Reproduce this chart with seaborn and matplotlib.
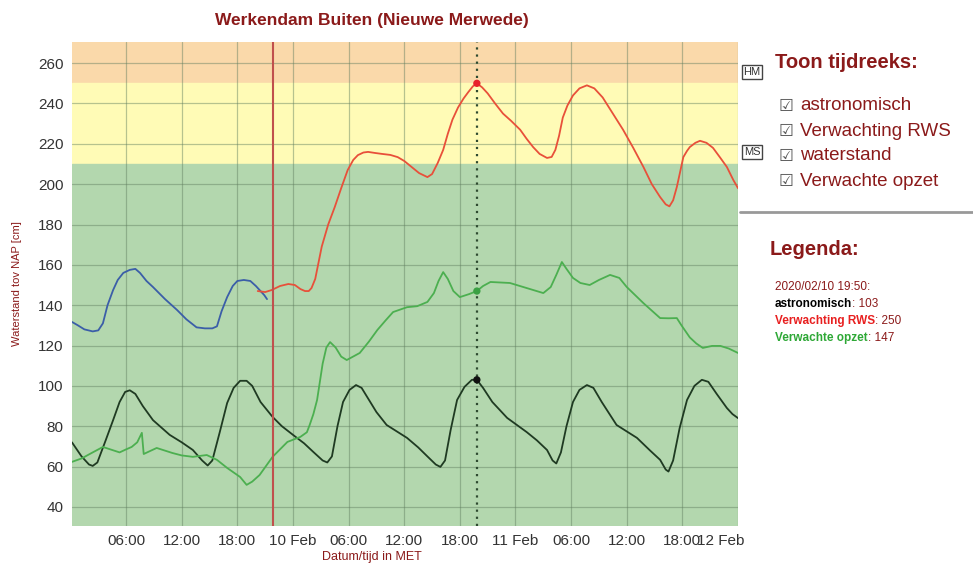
import numpy as np
import pandas as pd
import matplotlib.pyplot as plt
import matplotlib.dates as mdates
import matplotlib.transforms as mtransforms
import seaborn as sns

# uren sinds 9 feb 2020 00:00 + waarden [cm NAP]
waterstand_h = [0.16, 0.8, 1.5, 2.4, 3.0, 3.5, 4.0, 4.6, 5.1, 5.7, 6.4, 7.0, 7.5, 8.2, 8.9, 10.2,
                11.5, 12.5, 13.6, 14.5, 15.3, 15.8, 16.3, 16.9, 17.5, 18.0, 18.7, 19.4, 20.0, 20.4,
                20.9, 21.2]
waterstand_v = [131.7, 130, 128, 127, 127.5, 131, 140, 147.5, 152.5, 156, 157.5, 158, 156, 152, 149, 143,
                137.6, 133, 129, 128.5, 128.5, 129.5, 137, 144, 149.5, 152, 152.5, 152, 149.5, 147.5,
                145, 143]

rws_h = [20.2, 21.0, 21.7, 22.6, 23.5, 24.2, 24.8, 25.3, 25.7, 26.0, 26.4, 27.1, 27.8, 28.5, 29.2,
         29.9, 30.5, 31.0, 31.6, 32.1, 32.8, 33.6, 34.5, 35.3, 36.0, 36.8, 37.6, 38.5, 39.0, 39.6,
         40.2, 40.7, 41.2, 41.8, 42.4, 42.9, 43.4, 43.83, 44.4, 45.0, 45.8, 46.65, 47.5, 48.5, 49.2,
         49.9, 50.6, 51.4, 51.9, 52.3, 52.7, 53.1, 53.6, 54.2, 54.9, 55.7, 56.5, 57.4, 58.5, 59.6,
         60.7, 61.8, 62.7, 63.6, 64.2, 64.6, 65.0, 65.4, 65.8, 66.1, 66.5, 66.8, 67.4, 67.9, 68.6,
         69.3, 70.1, 70.8, 71.5, 72.0]
rws_v = [147, 146.5, 147.5, 149.5, 150.5, 150, 148, 147, 147, 148.5, 153, 169, 180, 188.6, 198,
         207, 212, 214.4, 215.7, 216, 215.5, 215, 214.5, 213.4, 211.5, 208.5, 205.5, 203.5, 205, 210.4,
         217, 225, 232, 238, 242.5, 245.6, 248.5, 250, 248, 245, 240, 235, 231.5, 227, 222.5,
         218.4, 215, 213, 213.5, 217, 224, 233, 239, 244, 247.5, 249, 247.5, 243, 235, 227,
         218, 208.5, 200, 193.6, 190, 189, 192, 198.6, 207, 213.4, 216.5, 218.4, 220.5, 221.5, 220.5,
         218, 213, 208.5, 202, 198]

astro_h = [0.16, 1.2, 2.0, 2.4, 2.9, 3.8, 4.6, 5.3, 5.9, 6.4, 7.0, 7.8, 8.9, 10.7, 12.0, 13.2, 14.2,
           14.8, 15.3, 16.1, 16.9, 17.6, 18.3, 19.0, 19.6, 20.5, 21.8, 22.8, 24.0, 25.2, 26.2, 27.2,
           27.7, 28.2, 28.8, 29.4, 30.1, 30.8, 31.4, 32.2, 33.0, 34.1, 36.3, 37.5, 38.5, 39.4, 39.9,
           40.4, 41.0, 41.7, 42.5, 43.3, 43.83, 44.5, 45.5, 47.1, 49.2, 50.3, 51.4, 52.0, 52.4, 52.9,
           53.5, 54.2, 54.9, 55.7, 56.4, 57.3, 58.9, 61.1, 62.5, 63.6, 64.2, 64.5, 65.0, 65.7, 66.5,
           67.3, 68.1, 68.8, 69.7, 70.8, 71.4, 72.0]
astro_v = [72, 65, 61, 60.3, 62, 73, 83, 92, 97, 97.8, 96, 90, 83, 75.7, 72, 68.2, 63,
           60.5, 63, 77, 91.5, 99, 102.5, 102.5, 100, 92, 84.6, 80, 75.7, 71.5, 67.2, 63,
           62, 65, 80, 92, 98, 100.4, 99, 93, 87, 80.6, 74.2, 69.5, 65, 61, 59.8,
           63, 78, 93, 99.5, 103, 103, 99, 92, 84.1, 77.1, 73, 68.2, 63, 61.5, 67,
           80, 92, 98, 100.4, 99, 92, 80.6, 74.2, 68, 63.3, 58.5, 57.5, 63, 79, 93,
           100, 103, 102, 96, 89, 86, 84]

opzet_h = [0.16, 1.2, 2.4, 3.5, 4.3, 5.3, 6.0, 6.6, 7.2, 7.7, 7.9, 8.5, 9.3, 11.0, 12.0, 13.2, 14.7,
           15.8, 16.9, 18.3, 19.0, 19.6, 20.4, 21.8, 23.4, 24.8, 25.5, 25.8, 26.2, 26.6, 27.2, 27.6,
           28.0, 28.6, 29.2, 29.8, 31.2, 32.2, 33.1, 34.0, 34.8, 36.3, 37.4, 38.5, 39.2, 39.7, 40.2,
           40.7, 41.3, 42.0, 43.0, 43.83, 44.5, 45.3, 47.4, 49.2, 51.0, 51.8, 52.4, 53.0, 53.5, 54.2,
           55.0, 56.0, 57.0, 58.2, 59.2, 60.0, 61.8, 63.6, 64.5, 65.4, 65.9, 66.8, 67.5, 68.2, 69.2,
           70.1, 71.0, 72.0]
opzet_v = [62.3, 64, 67, 69.7, 68.5, 67, 68.5, 69.7, 72, 76.7, 66.2, 67.5, 69.2, 66.7, 65.5, 64.8, 65.7,
           63.3, 59.3, 54.8, 50.9, 52.5, 55.8, 64.8, 72.2, 74.7, 77, 80.6, 86, 93, 111, 119,
           121.7, 119, 114.5, 112.8, 116.3, 122, 127.7, 132.5, 136.6, 139, 139.5, 141.6, 146, 152, 156.4,
           153, 147, 144, 145.5, 147, 149.5, 151.5, 151, 148.5, 146, 149, 155, 161.4, 158, 153.5,
           151, 150, 152.5, 155, 153.5, 149, 141, 133.6, 133.5, 133.6, 130, 124, 121, 118.8, 119.8,
           119.8, 118.5, 116.3]

yticks = list(range(40, 261, 20))
t0 = pd.Timestamp("2020-02-09 00:00")
t_nu = t0 + pd.Timedelta(hours=21.83)
t_sel = pd.Timestamp("2020-02-10 19:50")


def to_df(h, v, naam):
    return pd.DataFrame({"tijd": t0 + pd.to_timedelta(h, unit="h"), "cm": v, "reeks": naam})


df = pd.concat([
    to_df(astro_h, astro_v, "astronomisch"),
    to_df(opzet_h, opzet_v, "Verwachte opzet"),
    to_df(waterstand_h, waterstand_v, "waterstand"),
    to_df(rws_h, rws_v, "Verwachting RWS"),
])
kleuren = {"astronomisch": "#1f3a22", "Verwachte opzet": "#4caf50",
           "waterstand": "#3b5ea8", "Verwachting RWS": "#e8503a"}

sns.set_style("white")
plt.rcParams['font.family'] = ['Liberation Sans', 'DejaVu Sans']
donkerrood = "#8b1a1a"

fig = plt.figure(figsize=(9.73, 5.65), dpi=100)
ax = fig.add_axes([0.074, 0.069, 0.6845, 0.8567])

xmin = t0 + pd.Timedelta(minutes=10)
xmax = pd.Timestamp("2020-02-12 00:00")
ax.axhspan(250, 275, color="#fad9aa", zorder=0)
ax.axhspan(210, 250, color="#fffbb6", zorder=0)
ax.axhspan(0, 210, color="#b3d7ae", zorder=0)

sns.lineplot(data=df, x="tijd", y="cm", hue="reeks", palette=kleuren, ax=ax,
             linewidth=1.3, legend=False, estimator=None, sort=False, zorder=3)
for ln in ax.lines:
    ln.set_solid_joinstyle("round")

ax.axvline(t_nu, color="#c0504d", linewidth=1.5, zorder=4)
ax.axvline(t_sel, color="#2e4a30", linewidth=1.6, linestyle=(0, (1, 2.2)), zorder=4)
ax.scatter([t_sel] * 3, [250, 147, 103], color=["#e8202a", "#3aa043", "#111111"], s=18, zorder=5)

ax.set_xlim(xmin, xmax)
ax.set_ylim(30.5, 270.5)
ax.set_yticks(yticks)
ax.grid(True, color="#5f7d5f", alpha=0.45, linewidth=0.9)
ax.set_axisbelow(False)
ax.xaxis.set_major_locator(mdates.HourLocator(byhour=[0, 6, 12, 18]))


def fmt(x, pos=None):
    d = mdates.num2date(x)
    return d.strftime("%-d %b") if d.hour == 0 else d.strftime("%H:%M")


ax.xaxis.set_major_formatter(plt.FuncFormatter(fmt))
ax.tick_params(axis="both", length=0, labelsize=11, labelcolor="#333333", pad=6)
for s in ax.spines.values():
    s.set_visible(False)
ax.set_xlabel("")
ax.set_ylabel("")

# laatste label ("12 Feb") schuift naar links, net als in het origineel
fig.canvas.draw()
lbls = ax.get_xticklabels()
lbls[-1].set_transform(lbls[-1].get_transform() +
                       mtransforms.ScaledTranslation(-0.17, 0, fig.dpi_scale_trans))

fig.text(372 / 973, 1 - 20 / 565, "Werkendam Buiten (Nieuwe Merwede)", ha="center", va="center",
         fontsize=12.5, fontweight="bold", color=donkerrood)
fig.text(372 / 973, 1 - 557 / 565, "Datum/tijd in MET", ha="center", va="center",
         fontsize=9, color=donkerrood)
fig.text(17 / 973, 1 - 284 / 565, "Waterstand tov NAP [cm]", ha="center", va="center",
         rotation=90, fontsize=8, color=donkerrood)

for lbl, yp in [("HM", 72), ("MS", 152)]:
    fig.text(752 / 973, 1 - yp / 565, lbl, ha="center", va="center", fontsize=8, color="#333333",
             bbox=dict(boxstyle="square,pad=0.15", facecolor="white", edgecolor="#444444", linewidth=1))

fig.text(775 / 973, 1 - 62 / 565, "Toon tijdreeks:", ha="left", va="center",
         fontsize=14.5, fontweight="bold", color=donkerrood)
for i, naam in enumerate(["astronomisch", "Verwachting RWS", "waterstand", "Verwachte opzet"]):
    yp = 106 + i * 25
    fig.text(779 / 973, 1 - yp / 565, "\u2611", ha="left", va="center", fontsize=12,
             color="#555555", family=["DejaVu Sans"])
    fig.text(800 / 973, 1 - yp / 565, naam, ha="left", va="center", fontsize=13.5, color=donkerrood)

fig.add_artist(plt.Line2D([740 / 973, 1.0], [1 - 212 / 565] * 2, color="#999999", linewidth=2))
fig.text(770 / 973, 1 - 249 / 565, "Legenda:", ha="left", va="center",
         fontsize=14.5, fontweight="bold", color=donkerrood)

fs = 8.5
fig.text(775 / 973, 1 - 287 / 565, "2020/02/10 19:50:", ha="left", va="center", fontsize=fs,
         color=donkerrood)
regels = [("astronomisch", "black", "103"), ("Verwachting RWS", "#e82020", "250"),
          ("Verwachte opzet", "#2ea836", "147")]
renderer = fig.canvas.get_renderer()
for i, (naam, kl, waarde) in enumerate(regels):
    yp = 1 - (304 + i * 17) / 565
    t = fig.text(775 / 973, yp, naam, ha="left", va="center", fontsize=fs, fontweight="bold", color=kl)
    bb = t.get_window_extent(renderer)
    fig.text(bb.x1 / fig.bbox.width, yp, ": " + waarde, ha="left", va="center", fontsize=fs,
             color=donkerrood)

plt.savefig("out.png", dpi=100)
